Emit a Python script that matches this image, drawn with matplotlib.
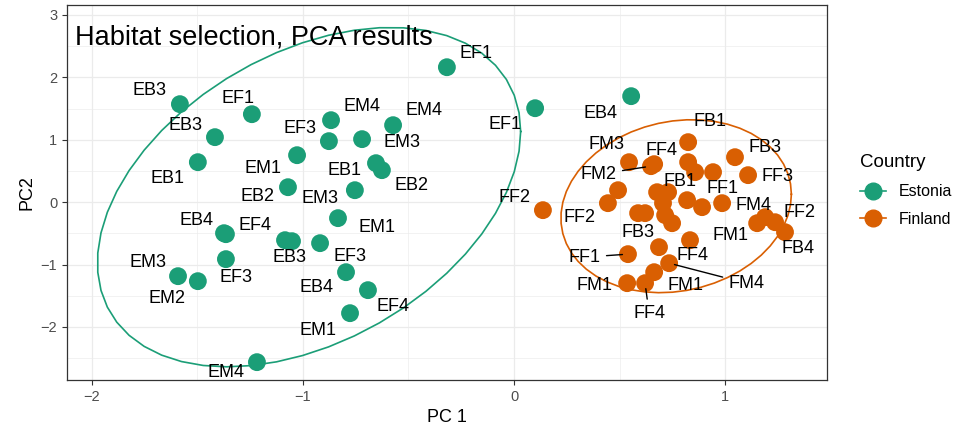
import numpy as np
import matplotlib.pyplot as plt
from matplotlib.lines import Line2D

plt.rcParams['font.family'] = ['Liberation Sans', 'DejaVu Sans']

# PCA scores, Estonian sites
est_names = ['EB3', 'EF1', 'EB3', 'EB1', 'EM4', 'EF3', 'EM3', 'EM4', 'EM1', 'EB1',
             'EB2', 'EB2', 'EM3', 'EM1', 'EB4', 'EF4', 'EF3', 'EM3', 'EM2', 'EB3',
             'EM2', 'EF3', 'EB4', 'EF4', 'EM1', 'EM4', 'EF1', 'EF1', 'EB4']
est_pc1 = [-1.583, -1.242, -1.417, -1.498, -0.867, -0.877, -0.720, -0.573, -1.028, -0.654,
           -0.626, -1.071, -0.754, -0.834, -1.374, -1.365, -1.365, -1.592, -1.498, -1.085,
           -1.052, -0.919, -0.796, -0.692, -0.777, -1.218, -0.318, 0.100, 0.555]
est_pc2 = [1.571, 1.410, 1.042, 0.641, 1.314, 0.978, 1.010, 1.234, 0.753, 0.625,
           0.513, 0.240, 0.192, -0.256, -0.497, -0.513, -0.913, -1.186, -1.266, -0.609,
           -0.625, -0.657, -1.122, -1.410, -1.779, -2.564, 2.163, 1.506, 1.699]

# PCA scores, Finnish sites
fin_names = ['FF2', 'FB1', 'FM3', 'FF4', 'FM2', 'FB3', 'FF3', 'FB2', 'FM2', 'FB2',
             'FM3', 'FF2', 'FB4', 'FB1', 'FM3', 'FB2', 'FM2', 'FB4', 'FF3', 'FM3',
             'FF1', 'FM4', 'FM1', 'FB4', 'FF2', 'FB4', 'FF1', 'FB3', 'FF4', 'FM1',
             'FF4', 'FM1', 'FM4']
fin_pc1 = [0.137, 0.825, 0.545, 0.664, 0.649, 1.047, 1.109, 0.825, 0.858, 0.943,
           0.493, 0.445, 0.678, 0.730, 0.706, 0.588, 0.621, 0.716, 0.749, 0.820,
           0.891, 0.986, 1.152, 1.190, 1.237, 1.284, 0.540, 0.687, 0.834, 0.536,
           0.621, 0.664, 0.735]
fin_pc2 = [-0.128, 0.962, 0.641, 0.609, 0.577, 0.721, 0.433, 0.641, 0.481, 0.481,
           0.192, -0.016, 0.160, 0.160, -0.016, -0.176, -0.176, -0.208, -0.337, 0.032,
           -0.080, -0.016, -0.337, -0.240, -0.321, -0.481, -0.833, -0.721, -0.609, -1.298,
           -1.298, -1.122, -0.978]

# repelled label offsets in pixels (None = label dropped); True = draw segment
est_lab = [(-30, 14), (-14, 16), (-29, 12), (-30, -16), (31, 14), (-29, 13), (40, -3),
           (31, 15), (-34, -13), (-31, -7), (30, -15), (-30, -9), (-35, -8), (39, -9),
           (-28, 13), (29, 9), (10, -18), (-30, 14), (-31, -17), (4, -17), None,
           (30, -13), (-30, -15), (25, -16), (-32, -17), (-31, -10), (29, 14),
           (-30, -16), (-31, -17)]
fin_lab = [(-28, 13), (22, 21), (-23, 18), (7, 14), (-52, -8, True), (30, 10), (29, -1),
           None, None, None, None, (-28, -14), None, (12, 11), None, None, None, None,
           None, None, (20, 19), (31, -2), (-27, -12), None, (24, 10), (13, -16),
           (-43, -3, True), (-21, 15), (2, -15), (-33, -2), (4, -30, True), (31, -13),
           (77, -20, True)]

colors = {'Estonia': '#1B9E77', 'Finland': '#D95F02'}


def cov_trob(pts, nu=5, maxit=25, tol=0.01):
    # multivariate t robust location / scatter (as in MASS::cov.trob)
    n, p = pts.shape
    loc = pts.mean(axis=0)
    w = np.ones(n)
    for _ in range(maxit):
        w0 = w
        X = pts - loc
        _, d, vt = np.linalg.svd(np.sqrt(w / w.sum())[:, None] * X, full_matrices=False)
        wX = X @ vt.T @ np.diag(1 / d)
        Q = (wX ** 2).sum(axis=1)
        w = (nu + p) / (nu + Q)
        loc = (w[:, None] * pts).sum(axis=0) / w.sum()
        if np.all(np.abs(w - w0) < tol):
            break
    sX = np.sqrt(w)[:, None] * X
    return loc, sX.T @ sX / n


def t_ellipse(x, y, level=0.95, segments=51):
    pts = np.column_stack([x, y])
    center, shape = cov_trob(pts)
    d2 = len(x) - 1
    fq = (d2 / 2) * ((1 - level) ** (-2 / d2) - 1)   # F quantile with df1 = 2
    radius = np.sqrt(2 * fq)
    ang = np.linspace(0, 2 * np.pi, segments + 1)
    circ = np.column_stack([np.cos(ang), np.sin(ang)])
    L = np.linalg.cholesky(shape)
    e = center + radius * (circ @ L.T)
    return e[:, 0], e[:, 1]


fig = plt.figure(figsize=(9.64, 4.37), dpi=100)
ax = fig.add_axes([67 / 964, 1 - 380 / 437, 760 / 964, 375 / 437])

ax.set_xlim(-2.118, 1.483)
ax.set_ylim(-2.85, 3.16)
ax.set_xticks([-2, -1, 0, 1])
ax.set_yticks([-2, -1, 0, 1, 2, 3])
ax.set_xticks([-1.5, -0.5, 0.5], minor=True)
ax.set_yticks([-2.5, -1.5, -0.5, 0.5, 1.5, 2.5], minor=True)
ax.grid(which='major', color='#EBEBEB', lw=0.9)
ax.grid(which='minor', color='#EBEBEB', lw=0.45)
ax.set_axisbelow(True)
for s in ax.spines.values():
    s.set_color('#333333')
    s.set_linewidth(0.9)
ax.tick_params(which='major', length=3.5, color='#333333', labelcolor='#4D4D4D',
               labelsize=10.5, width=0.8)
ax.tick_params(which='minor', length=0)

groups = [('Estonia', est_names, est_pc1, est_pc2, est_lab),
          ('Finland', fin_names, fin_pc1, fin_pc2, fin_lab)]

for country, names, px, py, labs in groups:
    c = colors[country]
    ax.scatter(px, py, s=165, color=c, edgecolors='none', zorder=3)
    ex, ey = t_ellipse(np.array(px), np.array(py))
    ax.plot(ex, ey, color=c, lw=1.2, zorder=4)

for country, names, px, py, labs in groups:
    for name, x, y, lab in zip(names, px, py, labs):
        if lab is None:
            continue
        dx, dy = lab[0], lab[1]
        seg = len(lab) > 2
        ax.annotate(name, (x, y), xytext=(dx, dy), textcoords='offset pixels',
                    ha='center', va='center', fontsize=13, color='black', zorder=5,
                    arrowprops=dict(arrowstyle='-', color='black', lw=1.0,
                                    shrinkA=2, shrinkB=4) if seg else None)

ax.text(0.011, 0.948, 'Habitat selection, PCA results', transform=ax.transAxes,
        ha='left', va='top', fontsize=19.5, zorder=6)

ax.set_xlabel('PC 1', fontsize=13, labelpad=4)
ax.set_ylabel('PC2', fontsize=13, labelpad=4)

handles = [Line2D([], [], color=colors[k], marker='o', markersize=12, lw=1.2)
           for k in colors]
leg = fig.legend(handles, list(colors), title='Country', loc='upper left',
                 bbox_to_anchor=(846 / 964, 1 - 140 / 437), frameon=False,
                 fontsize=11.5, title_fontsize=13.5, handlelength=1.6,
                 labelspacing=0.8, alignment='left', handletextpad=0.8)

fig.savefig('out.png', dpi=100)
